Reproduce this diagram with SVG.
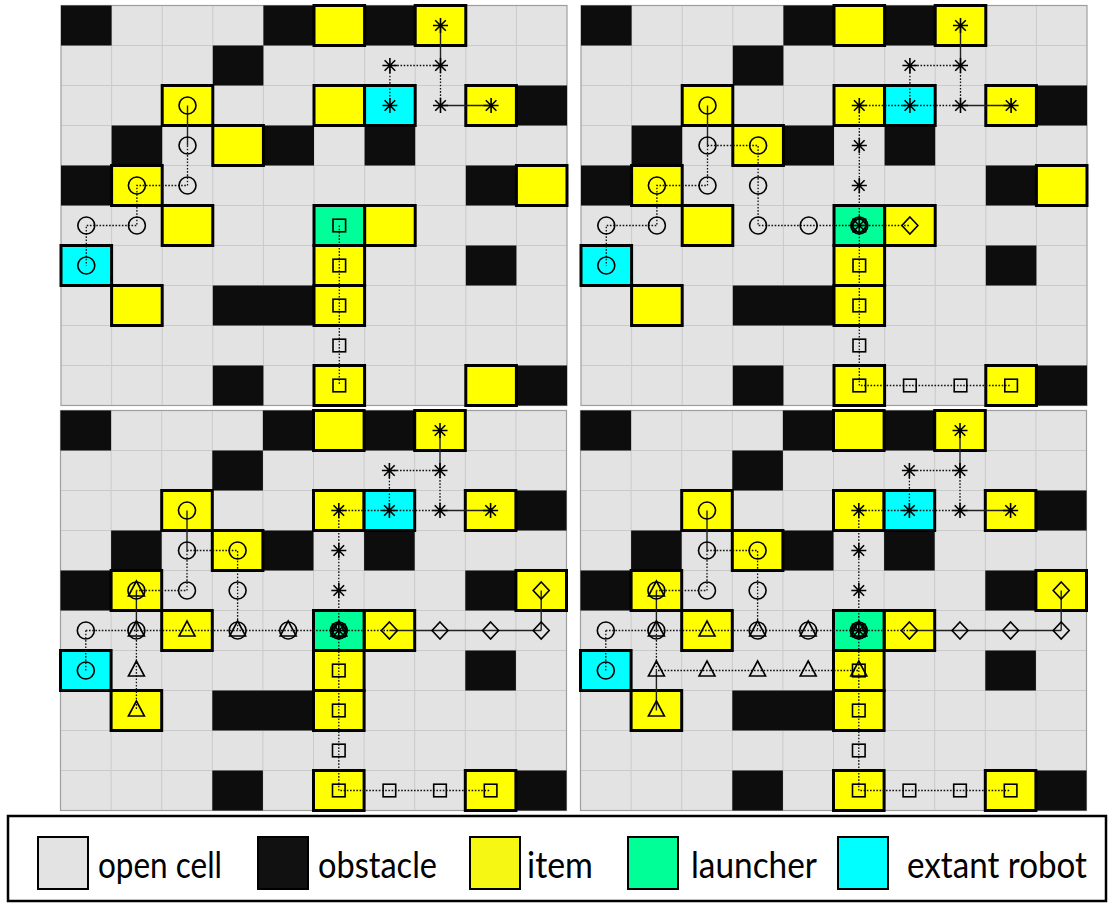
<svg xmlns="http://www.w3.org/2000/svg" width="1112" height="903" viewBox="0 0 1112 903">
<style>
.mk{fill:none;stroke:#000;stroke-width:1.6}
.dot{fill:none;stroke:#111;stroke-width:1.3;stroke-dasharray:1.6 1.6}
.sol{fill:none;stroke:#222;stroke-width:1.4}
.obs{fill:#0d0d0d}
.itm{fill:#ffff00;stroke:#000;stroke-width:3}
.rob{fill:#00ffff;stroke:#000;stroke-width:3}
.lau{fill:#00ff99;stroke:#000;stroke-width:3}
.lg{font-family:"Lato","Liberation Sans",sans-serif;font-size:36px;fill:#000}
</style>
<defs>
<g id="mc"><circle r="8.5" class="mk"/></g>
<g id="ms"><rect x="-6.3" y="-6.3" width="12.6" height="12.6" class="mk"/></g>
<g id="ma"><path d="M-7.5 0H7.5M0-7.5V7.5M-5.3-5.3L5.3 5.3M-5.3 5.3L5.3-5.3" class="mk"/></g>
<g id="mt"><path d="M0-9.5L8 5.5H-8Z" class="mk"/></g>
<g id="md"><path d="M0-8.5L8 0L0 8.5L-8 0Z" class="mk"/></g>
<g id="board">
<rect width="506" height="400" fill="#e3e3e3"/>
<path d="M50.6 0V400M101.2 0V400M151.8 0V400M202.4 0V400M253 0V400M303.6 0V400M354.2 0V400M404.8 0V400M455.4 0V400M0 40H506M0 80H506M0 120H506M0 160H506M0 200H506M0 240H506M0 280H506M0 320H506M0 360H506" stroke="#cacaca" stroke-width="1" fill="none"/>
<rect width="506" height="400" fill="none" stroke="#9e9e9e" stroke-width="1.2"/>
<path class="obs" d="M0 0h50.6v40h-50.6z M202.4 0h50.6v40h-50.6z M303.6 0h50.6v40h-50.6z M151.8 40h50.6v40h-50.6z M455.4 80h50.6v40h-50.6z M50.6 120h50.6v40h-50.6z M202.4 120h50.6v40h-50.6z M303.6 120h50.6v40h-50.6z M0 160h50.6v40h-50.6z M404.8 160h50.6v40h-50.6z M404.8 240h50.6v40h-50.6z M151.8 280h101.2v40h-101.2z M151.8 360h50.6v40h-50.6z M455.4 360h50.6v40h-50.6z"/>
<g class="itm">
<rect x="253" y="0" width="50.6" height="40"/>
<rect x="354.2" y="0" width="50.6" height="40"/>
<rect x="101.2" y="80" width="50.6" height="40"/>
<rect x="253" y="80" width="50.6" height="40"/>
<rect x="404.8" y="80" width="50.6" height="40"/>
<rect x="151.8" y="120" width="50.6" height="40"/>
<rect x="50.6" y="160" width="50.6" height="40"/>
<rect x="455.4" y="160" width="50.6" height="40"/>
<rect x="101.2" y="200" width="50.6" height="40"/>
<rect x="303.6" y="200" width="50.6" height="40"/>
<rect x="253" y="240" width="50.6" height="40"/>
<rect x="50.6" y="280" width="50.6" height="40"/>
<rect x="253" y="280" width="50.6" height="40"/>
<rect x="253" y="360" width="50.6" height="40"/>
<rect x="404.8" y="360" width="50.6" height="40"/>
</g>
<rect class="rob" x="303.6" y="80" width="50.6" height="40"/>
<rect class="rob" x="0" y="240" width="50.6" height="40"/>
<rect class="lau" x="253" y="200" width="50.6" height="40"/>
</g>
</defs>
<rect width="1112" height="903" fill="#fff"/>

<g id="panel-a" transform="translate(61 5.5)">
<use href="#board"/>
<g id="connectors-a">
<path class="sol" d="M126.5 100V140M379.5 20V60M379.5 100H430.1"/>
<path class="dot" d="M126.5 140V180H75.9V220H25.3V260M379.5 60H328.9V100M379.5 60V100M278.3 220V380"/>
</g>
<g id="markers-a">
<use href="#mc" x="126.5" y="100"/><use href="#mc" x="126.5" y="140"/><use href="#mc" x="126.5" y="180"/><use href="#mc" x="75.9" y="180"/><use href="#mc" x="75.9" y="220"/><use href="#mc" x="25.3" y="220"/><use href="#mc" x="25.3" y="260"/>
<use href="#ma" x="379.5" y="20"/><use href="#ma" x="379.5" y="60"/><use href="#ma" x="328.9" y="60"/><use href="#ma" x="328.9" y="100"/><use href="#ma" x="379.5" y="100"/><use href="#ma" x="430.1" y="100"/>
<use href="#ms" x="278.3" y="220"/><use href="#ms" x="278.3" y="260"/><use href="#ms" x="278.3" y="300"/><use href="#ms" x="278.3" y="340"/><use href="#ms" x="278.3" y="380"/>
</g>
</g>

<g id="panel-b" transform="translate(581 5.5)">
<use href="#board"/>
<g id="connectors-b">
<path class="sol" d="M126.5 100V140M379.5 20V60M379.5 100H430.1"/>
<path class="dot" d="M126.5 140V180H75.9V220H25.3V260M126.5 140H177.1V220H278.3M379.5 60H328.9V100M379.5 60V100M278.3 100H379.5M278.3 100V380H430.1M278.3 220H328.9"/>
</g>
<g id="markers-b">
<use href="#mc" x="126.5" y="100"/><use href="#mc" x="126.5" y="140"/><use href="#mc" x="126.5" y="180"/><use href="#mc" x="75.9" y="180"/><use href="#mc" x="75.9" y="220"/><use href="#mc" x="25.3" y="220"/><use href="#mc" x="25.3" y="260"/><use href="#mc" x="177.1" y="140"/><use href="#mc" x="177.1" y="180"/><use href="#mc" x="177.1" y="220"/><use href="#mc" x="227.7" y="220"/><use href="#mc" x="278.3" y="220"/>
<use href="#ma" x="379.5" y="20"/><use href="#ma" x="379.5" y="60"/><use href="#ma" x="328.9" y="60"/><use href="#ma" x="328.9" y="100"/><use href="#ma" x="379.5" y="100"/><use href="#ma" x="430.1" y="100"/><use href="#ma" x="278.3" y="100"/><use href="#ma" x="278.3" y="140"/><use href="#ma" x="278.3" y="180"/><use href="#ma" x="278.3" y="220"/>
<use href="#ms" x="278.3" y="220"/><use href="#ms" x="278.3" y="260"/><use href="#ms" x="278.3" y="300"/><use href="#ms" x="278.3" y="340"/><use href="#ms" x="278.3" y="380"/><use href="#ms" x="328.9" y="380"/><use href="#ms" x="379.5" y="380"/><use href="#ms" x="430.1" y="380"/>
<use href="#md" x="278.3" y="220"/><use href="#md" x="328.9" y="220"/>
</g>
</g>

<g id="panel-c" transform="translate(60.5 410.5)">
<use href="#board"/>
<g id="connectors-c">
<path class="sol" d="M126.5 100V140M379.5 20V60M379.5 100H430.1M75.9 180V220M328.9 220H480.7M480.7 180V220"/>
<path class="dot" d="M126.5 140V180H75.9M25.3 220V260M25.3 220H328.9M75.9 220V300M126.5 140H177.1V220M379.5 60H328.9V100M379.5 60V100M278.3 100H379.5M278.3 100V380H430.1"/>
</g>
<g id="markers-c">
<use href="#mc" x="126.5" y="100"/><use href="#mc" x="126.5" y="140"/><use href="#mc" x="126.5" y="180"/><use href="#mc" x="75.9" y="180"/><use href="#mc" x="75.9" y="220"/><use href="#mc" x="25.3" y="220"/><use href="#mc" x="25.3" y="260"/><use href="#mc" x="177.1" y="140"/><use href="#mc" x="177.1" y="180"/><use href="#mc" x="177.1" y="220"/><use href="#mc" x="227.7" y="220"/><use href="#mc" x="278.3" y="220"/>
<use href="#ma" x="379.5" y="20"/><use href="#ma" x="379.5" y="60"/><use href="#ma" x="328.9" y="60"/><use href="#ma" x="328.9" y="100"/><use href="#ma" x="379.5" y="100"/><use href="#ma" x="430.1" y="100"/><use href="#ma" x="278.3" y="100"/><use href="#ma" x="278.3" y="140"/><use href="#ma" x="278.3" y="180"/><use href="#ma" x="278.3" y="220"/>
<use href="#ms" x="278.3" y="220"/><use href="#ms" x="278.3" y="260"/><use href="#ms" x="278.3" y="300"/><use href="#ms" x="278.3" y="340"/><use href="#ms" x="278.3" y="380"/><use href="#ms" x="328.9" y="380"/><use href="#ms" x="379.5" y="380"/><use href="#ms" x="430.1" y="380"/>
<use href="#md" x="278.3" y="220"/><use href="#md" x="328.9" y="220"/><use href="#md" x="379.5" y="220"/><use href="#md" x="430.1" y="220"/><use href="#md" x="480.7" y="220"/><use href="#md" x="480.7" y="180"/>
<use href="#mt" x="75.9" y="180"/><use href="#mt" x="75.9" y="220"/><use href="#mt" x="126.5" y="220"/><use href="#mt" x="177.1" y="220"/><use href="#mt" x="227.7" y="220"/><use href="#mt" x="278.3" y="220"/><use href="#mt" x="75.9" y="260"/><use href="#mt" x="75.9" y="300"/>
</g>
</g>

<g id="panel-d" transform="translate(580.5 410.5)">
<use href="#board"/>
<g id="connectors-d">
<path class="sol" d="M126.5 100V140M379.5 20V60M379.5 100H430.1M75.9 180V220M328.9 220H480.7M480.7 180V220M75.9 260V300"/>
<path class="dot" d="M126.5 140V180H75.9M25.3 220V260M25.3 220H328.9M75.9 220V260H278.3M126.5 140H177.1V220M379.5 60H328.9V100M379.5 60V100M278.3 100H379.5M278.3 100V380H430.1"/>
</g>
<g id="markers-d">
<use href="#mc" x="126.5" y="100"/><use href="#mc" x="126.5" y="140"/><use href="#mc" x="126.5" y="180"/><use href="#mc" x="75.9" y="180"/><use href="#mc" x="75.9" y="220"/><use href="#mc" x="25.3" y="220"/><use href="#mc" x="25.3" y="260"/><use href="#mc" x="177.1" y="140"/><use href="#mc" x="177.1" y="180"/><use href="#mc" x="177.1" y="220"/><use href="#mc" x="227.7" y="220"/><use href="#mc" x="278.3" y="220"/>
<use href="#ma" x="379.5" y="20"/><use href="#ma" x="379.5" y="60"/><use href="#ma" x="328.9" y="60"/><use href="#ma" x="328.9" y="100"/><use href="#ma" x="379.5" y="100"/><use href="#ma" x="430.1" y="100"/><use href="#ma" x="278.3" y="100"/><use href="#ma" x="278.3" y="140"/><use href="#ma" x="278.3" y="180"/><use href="#ma" x="278.3" y="220"/>
<use href="#ms" x="278.3" y="220"/><use href="#ms" x="278.3" y="260"/><use href="#ms" x="278.3" y="300"/><use href="#ms" x="278.3" y="340"/><use href="#ms" x="278.3" y="380"/><use href="#ms" x="328.9" y="380"/><use href="#ms" x="379.5" y="380"/><use href="#ms" x="430.1" y="380"/>
<use href="#md" x="278.3" y="220"/><use href="#md" x="328.9" y="220"/><use href="#md" x="379.5" y="220"/><use href="#md" x="430.1" y="220"/><use href="#md" x="480.7" y="220"/><use href="#md" x="480.7" y="180"/>
<use href="#mt" x="75.9" y="180"/><use href="#mt" x="75.9" y="220"/><use href="#mt" x="126.5" y="220"/><use href="#mt" x="177.1" y="220"/><use href="#mt" x="227.7" y="220"/><use href="#mt" x="278.3" y="220"/><use href="#mt" x="75.9" y="260"/><use href="#mt" x="75.9" y="300"/><use href="#mt" x="126.5" y="260"/><use href="#mt" x="177.1" y="260"/><use href="#mt" x="227.7" y="260"/><use href="#mt" x="278.3" y="260"/>
</g>
</g>

<g id="legend">
<rect x="8" y="816" width="1098" height="85" fill="#fff" stroke="#000" stroke-width="2.5"/>
<g id="leg-open"><rect x="38" y="837" width="50" height="52" fill="#e3e3e3" stroke="#000" stroke-width="2"/><text class="lg" x="98" y="878" textLength="124" lengthAdjust="spacingAndGlyphs">open cell</text></g>
<g id="leg-obstacle"><rect x="258" y="837" width="50" height="52" fill="#111" stroke="#000" stroke-width="2"/><text class="lg" x="318" y="878" textLength="119" lengthAdjust="spacingAndGlyphs">obstacle</text></g>
<g id="leg-item"><rect x="470" y="837" width="50" height="52" fill="#f7f714" stroke="#000" stroke-width="2"/><text class="lg" x="527" y="878" textLength="66" lengthAdjust="spacingAndGlyphs">item</text></g>
<g id="leg-launcher"><rect x="628" y="837" width="50" height="52" fill="#00ff96" stroke="#000" stroke-width="2"/><text class="lg" x="691" y="878" textLength="126" lengthAdjust="spacingAndGlyphs">launcher</text></g>
<g id="leg-robot"><rect x="838" y="837" width="50" height="52" fill="#00ffff" stroke="#000" stroke-width="2"/><text class="lg" x="907" y="878" textLength="180" lengthAdjust="spacingAndGlyphs">extant robot</text></g>
</g>
</svg>
